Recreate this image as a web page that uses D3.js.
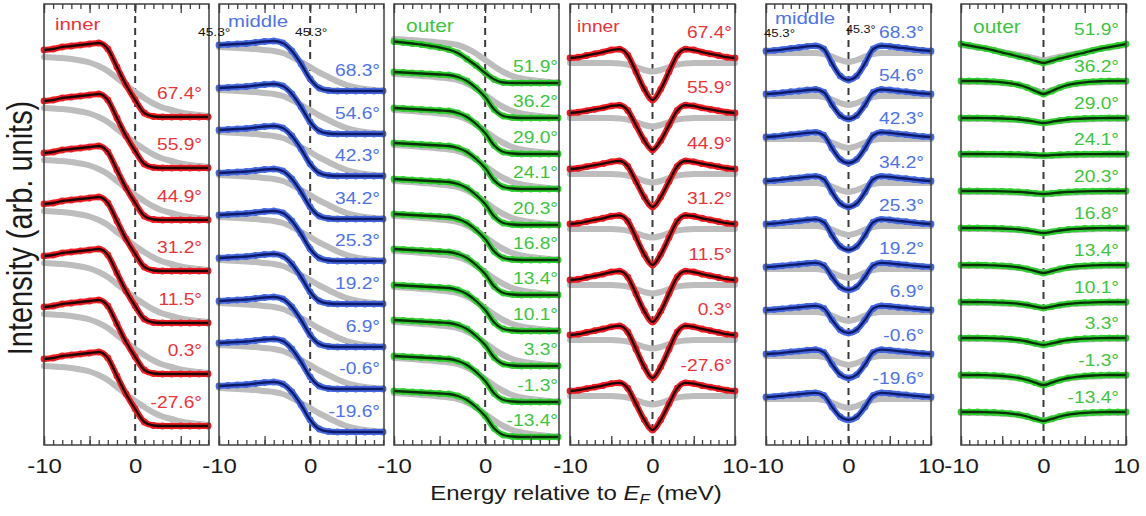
<!DOCTYPE html>
<html><head><meta charset="utf-8">
<script src="https://cdn.jsdelivr.net/npm/d3@7"></script>
<style>body{margin:0;background:#fff}svg{display:block}</style>
</head><body><svg id="c" width="1146" height="516"></svg>
<script>
// ================= DATA (arb. units) =================
const energyStep = [-10,-9,-8,-7,-6,-5,-4,-3,-2,-1,0,1,2,3,4,5,6,7,8];
const energyHalf = [0,1,2,3,4,5,6,7,8,9,10];
const stepTickLabels = [-10, 0];
const symTickLabels = [-10, 0, 10];

const innerAngles  = ["67.4°","55.9°","44.9°","31.2°","11.5°","0.3°","-27.6°"];
const middleAngles = ["68.3°","54.6°","42.3°","34.2°","25.3°","19.2°","6.9°","-0.6°","-19.6°"];
const outerAngles  = ["51.9°","36.2°","29.0°","24.1°","20.3°","16.8°","13.4°","10.1°","3.3°","-1.3°","-13.4°"];

// step (raw) spectra: flat level of each curve above E_F
const innerOffsets  = [32.8, 27.7, 22.5, 17.4, 12.2, 7.1, 1.9];
const middleOffsets = [35.4, 31.1, 26.9, 22.6, 18.4, 14.1, 9.8, 5.6, 1.3];
const outerOffsets  = [36.2, 32.7, 29.1, 25.6, 22.0, 18.5, 15.0, 11.4, 7.9, 4.3, 0.8];

// spectral shapes relative to the flat level, at energyStep
const innerStepFit   = [6.7,6.8,7.0,7.1,7.2,7.3,7.4,6.8,5.0,3.2,1.7,0.4,0.05,0,0,0,0,0,0];
const innerStepGray  = [6.0,5.95,5.9,5.8,5.65,5.45,5.1,4.6,3.9,3.2,2.5,1.9,1.35,0.95,0.7,0.45,0.3,0.2,0.1];
const middleStepFit  = [4.6,4.65,4.7,4.75,4.85,4.95,5.0,4.8,4.0,2.7,1.2,0.3,0.05,0,0,0,0,0,0];
const middleStepGray = [4.4,4.35,4.3,4.25,4.2,4.1,4.0,3.8,3.4,2.9,2.4,1.85,1.4,0.95,0.6,0.35,0.2,0.1,0.05];
const outerStepFit   = [4.6,4.55,4.5,4.45,4.4,4.35,4.3,4.1,3.7,3.0,2.1,0.85,0.2,0.05,0,0,0,0,0];
const outerStepFitTop= [4.15,4.05,3.95,3.85,3.7,3.55,3.35,3.0,2.4,1.75,1.0,0.35,0.05,0,0,0,0,0,0];
const outerStepGray  = [4.4,4.35,4.3,4.2,4.15,4.05,3.95,3.8,3.45,2.95,2.3,1.65,1.1,0.7,0.45,0.3,0.2,0.1,0.05];

// symmetrized spectra: baseline of each curve, depth of the dip at E_F
const innerSymBase   = [38.7, 33.2, 27.6, 22.1, 16.5, 11.0, 5.4];
const middleSymBase  = [39.4, 35.1, 30.8, 26.4, 22.1, 17.8, 13.5, 9.1, 4.8];
const outerSymBase   = [40.1, 36.4, 32.7, 29.1, 25.4, 21.7, 18.0, 14.3, 10.7, 7.0, 3.3];
const innerSymDepth  = [4.2, 3.7, 3.8, 4.1, 4.2, 4.3, 3.9];
const middleSymDepth = [2.9, 2.5, 2.6, 2.6, 2.6, 2.3, 2.3, 2.4, 2.3];
const outerSymDepth  = [1.9, 1.3, 0.5, 0.15, 0.3, 0.5, 0.8, 0.6, 0.7, 1.0, 0.9];
// normalized dip profiles at energyHalf (|E|)
const innerSymProfile  = [-1,-0.74,-0.33,0.07,0.21,0.19,0.14,0.10,0.06,0.02,0];
const middleSymProfile = [-1,-0.86,-0.43,0.07,0.18,0.16,0.12,0.09,0.05,0.02,0];
const outerSymProfile  = [-1,-0.77,-0.50,-0.30,-0.18,-0.10,-0.05,-0.02,0,0,0];
const outerSymProfileBroad = [-1,-0.89,-0.76,-0.66,-0.55,-0.45,-0.34,-0.24,-0.16,-0.08,0];
// normal-state (gray) symmetrized spectra relative to baseline
const innerSymGray  = [-1.35,-1.2,-0.9,-0.65,-0.55,-0.5,-0.5,-0.5,-0.5,-0.5,-0.5];
const middleSymGray = [-1.1,-0.9,-0.55,-0.3,-0.2,-0.2,-0.2,-0.2,-0.2,-0.2,-0.2];
// outer: normal-state spectra lie under the coloured ones (dip depth 0.8 of the fit, 0.1 lower)
const outerSymGrayDepthRatio = 0.8;
const outerSymGrayShift = -0.1;

// ================= LAYOUT / STYLE =================
const TOP = 4, BOTTOM = 445, PW = 165;
const FONT = "'Liberation Sans', Arial, Helvetica, sans-serif";
const SX = 1.2;
const svg = d3.select('#c');
const y = d3.scaleLinear().domain([0, 44.1]).range([BOTTOM, TOP]);

const RED = {data:'#ef1b22', fit:'#1c0606', label:'#e8343a'};
const BLUE = {data:'#4467de', fit:'#0c1a68', label:'#4f73e6'};
const GREEN = {data:'#2fcd2f', fit:'#0a2e0a', label:'#3fc43f'};
const GRAY = '#bdbdbd';

const panels = [
  {type:'step', left:44,  name:'inner',  col:RED,   angles:innerAngles,  off:innerOffsets,  fit:innerStepFit,  gray:innerStepGray,  nx:11, ny:30, ldx:7, ldy:18, ns:17},
  {type:'step', left:219, name:'middle', col:BLUE,  angles:middleAngles, off:middleOffsets, fit:middleStepFit, gray:middleStepGray, nx:9,  ny:27, ldx:4, ldy:15, ns:17},
  {type:'step', left:394, name:'outer',  col:GREEN, angles:outerAngles,  off:outerOffsets,  fit:outerStepFit,  gray:outerStepGray, fitTop:outerStepFitTop, nx:12, ny:32, ldx:1, ldy:11, ns:17.5},
  {type:'sym',  left:570, name:'inner',  col:RED,   angles:innerAngles,  base:innerSymBase,  depth:innerSymDepth,  prof:innerSymProfile,  gray:innerSymGray,  nx:7,  ny:32, ldx:3, ldy:20, ns:16},
  {type:'sym',  left:766, name:'middle', col:BLUE,  angles:middleAngles, base:middleSymBase, depth:middleSymDepth, prof:middleSymProfile, gray:middleSymGray, nx:9,  ny:24, ldx:7, ldy:13, ns:17},
  {type:'sym',  left:961, name:'outer',  col:GREEN, angles:outerAngles,  base:outerSymBase,  depth:outerSymDepth,  prof:outerSymProfile,  grayFollows:true, profTop:outerSymProfileBroad, nx:12, ny:33, ldx:7, ldy:9, ns:17.5},
];

function stext(g, x, yy, s, size, color, anchor) {
  return g.append('text').attr('transform', `translate(${x},${yy}) scale(${SX},1)`)
    .attr('font-family', FONT).attr('font-size', size).attr('fill', color)
    .attr('text-anchor', anchor || 'start').text(s);
}

panels.forEach(p => {
  const g = svg.append('g');
  const x = d3.scaleLinear()
    .domain(p.type === 'step' ? [-10, 8.1] : [-10, 10])
    .range([p.left, p.left + PW]);
  const lineGen = d3.line().x(d => x(d[0])).y(d => y(d[1])).curve(d3.curveMonotoneX);

  const curves = p.angles.map((a, i) => {
    if (p.type === 'step') {
      const f = (i === 0 && p.fitTop) ? p.fitTop : p.fit;
      return {
        a, ref: p.off[i],
        fit: energyStep.map((e, k) => [e, p.off[i] + f[k]]),
        gray: energyStep.map((e, k) => [e, p.off[i] + p.gray[k]])
      };
    } else {
      const pr = (i === 0 && p.profTop) ? p.profTop : p.prof;
      const es = [...energyHalf.slice(1).reverse().map(v => -v), ...energyHalf];
      return {
        a, ref: p.base[i],
        fit: es.map(e => [e, p.base[i] + pr[Math.abs(e)] * p.depth[i]]),
        gray: es.map(e => [e, p.grayFollows
          ? p.base[i] + pr[Math.abs(e)] * p.depth[i] * outerSymGrayDepthRatio + outerSymGrayShift
          : p.base[i] + p.gray[Math.abs(e)]])
      };
    }
  });

  g.append('line').attr('x1', x(0)).attr('x2', x(0)).attr('y1', TOP).attr('y2', BOTTOM)
    .attr('stroke', '#3a3a3a').attr('stroke-width', 2).attr('stroke-dasharray', '7,5');

  curves.forEach(c => {
    g.append('path').attr('d', lineGen(c.gray)).attr('fill', 'none')
      .attr('stroke', GRAY).attr('stroke-width', 6).attr('stroke-linecap', 'round').attr('stroke-linejoin', 'round');
  });
  curves.forEach(c => {
    g.append('path').attr('d', lineGen(c.fit)).attr('fill', 'none')
      .attr('stroke', p.col.data).attr('stroke-width', 6).attr('stroke-linecap', 'round').attr('stroke-linejoin', 'round');
    g.selectAll(null).data(c.fit).join('circle')
      .attr('cx', d => x(d[0])).attr('cy', d => y(d[1])).attr('r', 3.4).attr('fill', p.col.data);
  });
  curves.forEach(c => {
    g.append('path').attr('d', lineGen(c.fit)).attr('fill', 'none')
      .attr('stroke', p.col.fit).attr('stroke-width', 2.3).attr('stroke-linejoin', 'round');
  });

  g.append('rect').attr('x', p.left).attr('y', TOP).attr('width', PW).attr('height', BOTTOM - TOP)
    .attr('fill', 'none').attr('stroke', '#3f3f3f').attr('stroke-width', 1.5);

  const maxE = p.type === 'step' ? 8 : 10;
  const minor = d3.range(-10, maxE + 0.01, 1);
  const major = minor.filter(v => v % 5 === 0);
  [[minor, 5], [major, 9]].forEach(([vals, len]) => {
    const b = g.append('g').attr('transform', `translate(0,${BOTTOM})`)
      .call(d3.axisBottom(x).tickValues(vals).tickSize(-len).tickFormat(''));
    const t = g.append('g').attr('transform', `translate(0,${TOP})`)
      .call(d3.axisTop(x).tickValues(vals).tickSize(-len).tickFormat(''));
    [b, t].forEach(s => { s.select('.domain').remove(); s.selectAll('line').attr('stroke', '#3f3f3f').attr('stroke-width', 1.3); });
  });

  const lab = g.append('g').attr('transform', `translate(0,${BOTTOM})`)
    .call(d3.axisBottom(x).tickValues(p.type === 'step' ? stepTickLabels : symTickLabels)
      .tickSize(0).tickFormat(d => String(d)));
  lab.select('.domain').remove();
  lab.selectAll('text').attr('y', 28).attr('dy', 0).attr('transform', `scale(${SX},1)`)
    .attr('font-family', FONT).attr('font-size', 20).attr('fill', '#1a1a1a');

  p.curves = curves;
});

// stray "45.3°" annotations (drawn before the labels)
[[198, 36, '45.3°', 11.5], [295, 36, '45.3°', 11.5], [764, 37, '45.3°', 11], [846, 33, '45.3°', 10.5]].forEach(d => {
  stext(svg, d[0], d[1], d[2], d[3], '#111');
});

panels.forEach(p => {
  stext(svg, p.left + p.nx, p.ny, p.name, p.ns, p.col.label);
  p.curves.forEach(c => {
    stext(svg, p.left + PW - p.ldx, y(c.ref) - p.ldy, c.a, 16, p.col.label, 'end');
  });
});

const xt = svg.append('text').attr('transform', `translate(576,500) scale(${SX},1)`)
  .attr('font-family', FONT).attr('font-size', 20).attr('fill', '#1a1a1a').attr('text-anchor', 'middle');
xt.append('tspan').text('Energy relative to ');
xt.append('tspan').attr('font-style', 'italic').text('E');
xt.append('tspan').attr('font-style', 'italic').attr('font-size', 14).attr('dy', 4).text('F');
xt.append('tspan').attr('dy', -4).text(' (meV)');

svg.append('text').attr('transform', `translate(32,228) scale(${SX},1) rotate(-90)`)
  .attr('font-family', FONT).attr('font-size', 29).attr('fill', '#1a1a1a').attr('text-anchor', 'middle')
  .text('Intensity (arb. units)');
</script></body></html>
